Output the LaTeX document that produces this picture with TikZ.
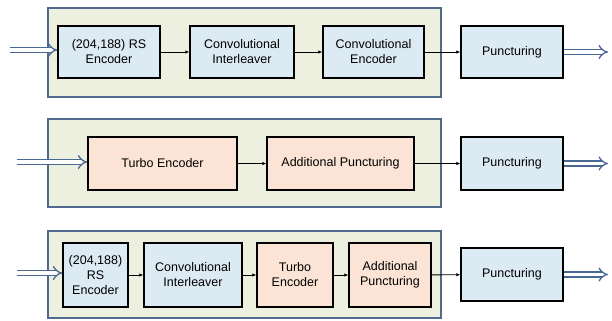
\documentclass[tikz,border=0pt]{standalone}
\usepackage{fontspec}
\setmainfont{Liberation Sans}
\usepackage{tikz}
\usetikzlibrary{arrows.meta,positioning}
\definecolor{FrameFill}{HTML}{EEF0DF}
\definecolor{FrameLine}{HTML}{50698C}
\definecolor{BlockBlue}{HTML}{DCEAF4}
\definecolor{BlockPeach}{HTML}{FBE4D5}
\definecolor{FlowBlue}{HTML}{4A6894}

\begin{document}
\begin{tikzpicture}[x=1bp,y=-1bp,
    frame/.style={draw=FrameLine,fill=FrameFill,line width=1.2bp},
    blk/.style={draw=black,line width=1.4bp,align=center,inner sep=1bp,
      font=\fontsize{12.5bp}{15bp}\selectfont},
    blu/.style={blk,fill=BlockBlue},
    pch/.style={blk,fill=BlockPeach},
    link/.style={-{Latex[length=4bp,width=3.5bp]},line width=0.9bp},
    flow/.style={draw=FlowBlue,double=white,double distance=3.5bp,line width=1.3bp,
      -{Implies[length=7bp]}}]
  \useasboundingbox (0,0) rectangle (612,320);
  % Kerangka
  \draw[frame] (48,8) rectangle (441,97);
  \draw[frame] (48,119) rectangle (441,207);
  \draw[frame] (48,231) rectangle (441,318);
  % Baris 1
  \node[blu,minimum width=102bp,minimum height=52bp] (rsA) at (109,52) {(204,188) RS\\Encoder};
  \node[blu,minimum width=104bp,minimum height=52bp] (ciA) at (242,52) {Convolutional\\Interleaver};
  \node[blu,minimum width=101bp,minimum height=52bp] (ceA) at (373.5,52) {Convolutional\\Encoder};
  \node[blu,minimum width=102bp,minimum height=52bp] (puA) at (512,52) {Puncturing};
  % Baris 2
  \node[pch,minimum width=149bp,minimum height=53bp] (teB) at (162.5,163.5) {Turbo Encoder};
  \node[pch,minimum width=147bp,minimum height=53bp] (apB) at (340.5,163.5) {Additional Puncturing};
  \node[blu,minimum width=102bp,minimum height=53bp] (puB) at (512,163.5) {Puncturing};
  % Baris 3
  \node[blu,minimum width=65bp,minimum height=64bp] (rsC) at (95.5,275) {(204,188)\\RS\\Encoder};
  \node[blu,minimum width=98bp,minimum height=64bp] (ciC) at (193,275) {Convolutional\\Interleaver};
  \node[pch,minimum width=76bp,minimum height=64bp] (teC) at (295,275) {Turbo\\Encoder};
  \node[pch,minimum width=82bp,minimum height=64bp] (apC) at (390,275) {Additional\\Puncturing};
  \node[blu,minimum width=102bp,minimum height=53bp] (puC) at (512,274.5) {Puncturing};
  % Penghubung
  \draw[link] (rsA) -- (ciA);
  \draw[link] (ciA) -- (ceA);
  \draw[link] (ceA) -- (puA);
  \draw[link] (teB) -- (apB);
  \draw[link] (apB) -- (puB);
  \draw[link] (rsC) -- (ciC);
  \draw[link] (ciC) -- (teC);
  \draw[link] (teC) -- (apC);
  \draw[link] (apC) -- (puC);
  % Masuk & keluar
  \coordinate (inA) at (10,50);
  \coordinate (inB) at (17,162);
  \coordinate (inC) at (17,273);
  \coordinate (outA) at (608,52);
  \coordinate (outB) at (608,163.5);
  \coordinate (outC) at (608,274.5);
  \draw[flow] (inA) -- (inA -| rsA.west);
  \draw[flow] (inB) -- (inB -| teB.west);
  \draw[flow] (inC) -- (inC -| rsC.west);
  \draw[flow] (puA.east) -- (outA);
  \draw[flow] (puB.east) -- (outB);
  \draw[flow] (puC.east) -- (outC);
\end{tikzpicture}
\end{document}
